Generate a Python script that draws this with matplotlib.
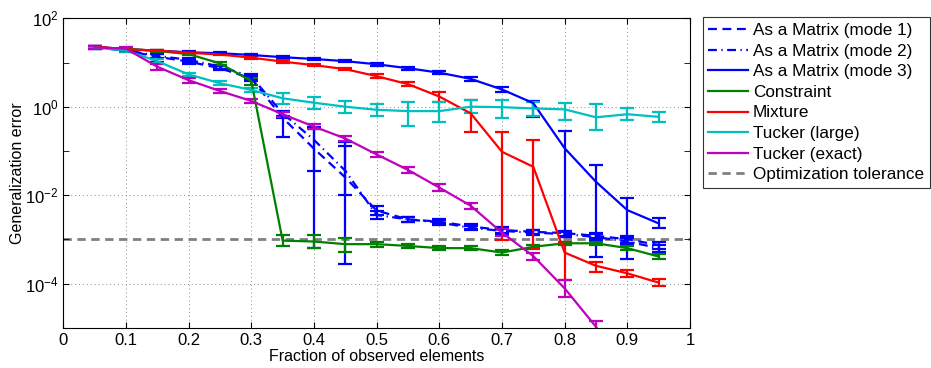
import numpy as np
import matplotlib
matplotlib.use("Agg")
import matplotlib.pyplot as plt
from matplotlib.ticker import FixedLocator, NullFormatter, LogFormatterSciNotation

plt.rcParams['font.family'] = ['Liberation Sans', 'DejaVu Sans']
plt.rcParams['mathtext.fontset'] = 'custom'
plt.rcParams['mathtext.rm'] = 'Liberation Sans'

# ---- data (values given as log10 of generalization error) ----
fraction = [0.05, 0.10, 0.15, 0.20, 0.25, 0.30, 0.35, 0.40, 0.45, 0.50,
            0.55, 0.60, 0.65, 0.70, 0.75, 0.80, 0.85, 0.90, 0.95]

mode1_log = [1.34, 1.27, 1.13, 1.02, 0.87, 0.64, -0.25, -0.95, -1.60, -2.35,
             -2.55, -2.60, -2.71, -2.79, -2.83, -2.86, -2.92, -3.00, -3.13]
mode1_lo = [1.31, 1.23, 1.02, 0.97, 0.82, 0.58, -0.68, -1.45, -2.00, -2.45,
            -2.60, -2.66, -2.76, -2.85, -2.88, -2.92, -2.98, -3.08, -3.22]
mode1_hi = [1.37, 1.30, 1.20, 1.06, 0.91, 0.70, -0.20, -0.45, -0.80, -2.25,
            -2.50, -2.55, -2.66, -2.73, -2.78, -2.81, -2.86, -2.93, -3.05]

mode2_log = [1.34, 1.28, 1.15, 1.06, 0.91, 0.68, -0.15, -0.75, -1.45, -2.45,
             -2.55, -2.62, -2.74, -2.81, -2.85, -2.88, -2.95, -3.05, -3.20]
mode2_lo = [1.31, 1.25, 1.10, 1.02, 0.86, 0.62, -0.25, -3.20, -3.55, -2.55,
            -2.60, -2.68, -2.80, -2.87, -2.90, -2.94, -3.01, -3.12, -3.28]
mode2_hi = [1.37, 1.31, 1.19, 1.10, 0.95, 0.73, -0.10, -0.50, -0.90, -2.35,
            -2.50, -2.57, -2.69, -2.75, -2.80, -2.83, -2.89, -2.98, -3.12]

mode3_log = [1.36, 1.30, 1.27, 1.23, 1.21, 1.17, 1.12, 1.08, 1.03, 0.96,
             0.87, 0.77, 0.63, 0.39, 0.08, -0.94, -1.70, -2.34, -2.64]
mode3_lo = [1.34, 1.28, 1.25, 1.21, 1.19, 1.15, 1.10, 1.06, 1.01, 0.93,
            0.84, 0.74, 0.59, 0.33, -0.24, -2.95, -3.39, -3.45, -2.75]
mode3_hi = [1.38, 1.32, 1.29, 1.25, 1.23, 1.19, 1.14, 1.10, 1.05, 0.99,
            0.90, 0.80, 0.67, 0.44, 0.14, -0.54, -1.32, -2.07, -2.52]

constraint_log = [1.34, 1.31, 1.26, 1.19, 0.98, 0.58, -3.03, -3.05, -3.11, -3.11,
                  -3.15, -3.20, -3.20, -3.30, -3.17, -3.09, -3.09, -3.20, -3.39]
constraint_lo = [1.32, 1.29, 1.24, 1.16, 0.94, 0.50, -3.15, -3.20, -3.28, -3.17,
                 -3.20, -3.25, -3.25, -3.35, -3.22, -3.13, -3.13, -3.25, -3.44]
constraint_hi = [1.36, 1.33, 1.28, 1.22, 1.02, 0.66, -2.90, -2.90, -2.98, -3.05,
                 -3.10, -3.15, -3.15, -3.25, -3.12, -3.05, -3.05, -3.15, -3.34]

mixture_log = [1.36, 1.30, 1.27, 1.22, 1.18, 1.11, 1.02, 0.94, 0.85, 0.69,
               0.51, 0.23, -0.15, -1.02, -1.36, -3.30, -3.60, -3.77, -3.98]
mixture_lo = [1.34, 1.28, 1.25, 1.20, 1.16, 1.08, 0.99, 0.91, 0.82, 0.65,
              0.46, 0.11, -0.57, -3.02, -3.20, -3.92, -3.73, -3.85, -4.06]
mixture_hi = [1.38, 1.32, 1.29, 1.24, 1.20, 1.14, 1.05, 0.97, 0.88, 0.73,
              0.56, 0.34, 0.15, -0.57, -0.75, -3.05, -3.51, -3.70, -3.90]

tucker_large_log = [1.34, 1.27, 1.03, 0.73, 0.53, 0.38, 0.19, 0.09, 0.00, -0.07,
                    -0.10, -0.10, 0.00, -0.01, -0.04, -0.06, -0.24, -0.17, -0.23]
tucker_large_lo = [1.32, 1.24, 0.99, 0.69, 0.48, 0.33, 0.07, -0.05, -0.15, -0.21,
                   -0.44, -0.34, -0.15, -0.26, -0.22, -0.29, -0.53, -0.30, -0.35]
tucker_large_hi = [1.36, 1.30, 1.07, 0.77, 0.58, 0.43, 0.31, 0.23, 0.12, 0.06,
                   0.11, 0.11, 0.15, 0.15, 0.11, 0.09, 0.05, -0.04, -0.11]

tucker_exact_log = [1.34, 1.31, 0.905, 0.60, 0.355, 0.13, -0.17, -0.45, -0.72, -1.08,
                    -1.43, -1.83, -2.24, -2.85, -3.38, -4.11, -4.98, -6.20, -7.40]
tucker_exact_lo = [1.31, 1.27, 0.83, 0.54, 0.31, 0.08, -0.23, -0.51, -0.78, -1.14,
                   -1.50, -1.90, -2.31, -2.93, -3.46, -4.30, -5.20, -6.40, -7.60]
tucker_exact_hi = [1.37, 1.34, 0.97, 0.66, 0.40, 0.18, -0.11, -0.39, -0.66, -1.02,
                   -1.36, -1.76, -2.17, -2.77, -3.30, -3.92, -4.85, -6.00, -7.20]

tolerance = 1e-3

series = [
    ("As a Matrix (mode 1)", mode1_log, mode1_lo, mode1_hi, (0, 0, 1), (0, (4, 2.5))),
    ("As a Matrix (mode 2)", mode2_log, mode2_lo, mode2_hi, (0, 0, 1), (0, (4, 2, 0.6, 2))),
    ("As a Matrix (mode 3)", mode3_log, mode3_lo, mode3_hi, (0, 0, 1), '-'),
    ("Constraint", constraint_log, constraint_lo, constraint_hi, (0, 0.5, 0), '-'),
    ("Mixture", mixture_log, mixture_lo, mixture_hi, (1, 0, 0), '-'),
    ("Tucker (large)", tucker_large_log, tucker_large_lo, tucker_large_hi, (0, 0.75, 0.75), '-'),
    ("Tucker (exact)", tucker_exact_log, tucker_exact_lo, tucker_exact_hi, (0.75, 0, 0.75), '-'),
]

fig = plt.figure(figsize=(9.31, 3.68), dpi=100)
ax = fig.add_axes([63.3 / 931, 1 - 327.7 / 368, (690 - 63.3) / 931, (327.7 - 18.3) / 368])

x = np.array(fraction)
handles = []
for label, ylog, lo, hi, color, ls in series:
    y = 10 ** np.array(ylog)
    ylo = 10 ** np.array(lo)
    yhi = 10 ** np.array(hi)
    eb = ax.errorbar(x, y, yerr=[y - ylo, yhi - y], color=color, lw=1.6,
                     elinewidth=1.6, capsize=5, capthick=1.6, label=label)
    eb[0].set_linestyle(ls)
    for c in eb[2]:
        c.set_linestyle('-')
    h, = ax.plot([], [], color=color, lw=1.6, linestyle=ls)
    handles.append(h)

tol, = ax.plot([0, 1], [tolerance, tolerance], color=(0.5, 0.5, 0.5), lw=2,
               linestyle=(0, (3, 2)), zorder=1)
handles.append(tol)
labels = [s[0] for s in series] + ["Optimization tolerance"]

ax.set_yscale('log')
ax.set_xlim(0, 1)
ax.set_ylim(1e-5, 1e2)
ax.set_xticks(np.arange(0, 1.01, 0.1))
ax.set_xticklabels(["0", "0.1", "0.2", "0.3", "0.4", "0.5", "0.6", "0.7", "0.8", "0.9", "1"])
ax.yaxis.set_major_locator(FixedLocator([1e-4, 1e-2, 1e0, 1e2]))
ax.yaxis.set_major_formatter(LogFormatterSciNotation())
ax.yaxis.set_minor_locator(FixedLocator([1e-5, 1e-3, 1e-1, 1e1]))
ax.yaxis.set_minor_formatter(NullFormatter())
ax.tick_params(which='both', direction='in', top=True, right=True, labelsize=12)
ax.tick_params(which='major', length=4)
ax.tick_params(which='minor', length=4)
ax.grid(True, which='major', linestyle=(0, (1, 3)), color=(0.55, 0.55, 0.55), lw=0.7)
for s in ax.spines.values():
    s.set_linewidth(0.8)

ax.set_xlabel("Fraction of observed elements", fontsize=11.5, labelpad=1)
ax.set_ylabel("Generalization error", fontsize=11.5, labelpad=0)

leg = fig.legend(handles, labels, loc='upper left',
                 bbox_to_anchor=(702.7 / 931, 1 - 17.3 / 368),
                 fontsize=12.3, frameon=True, fancybox=False, edgecolor='black',
                 handlelength=2.3, handletextpad=0.3, labelspacing=0.33,
                 borderpad=0.33, borderaxespad=0)
leg.get_frame().set_linewidth(0.8)

fig.savefig("out.png", dpi=100)
